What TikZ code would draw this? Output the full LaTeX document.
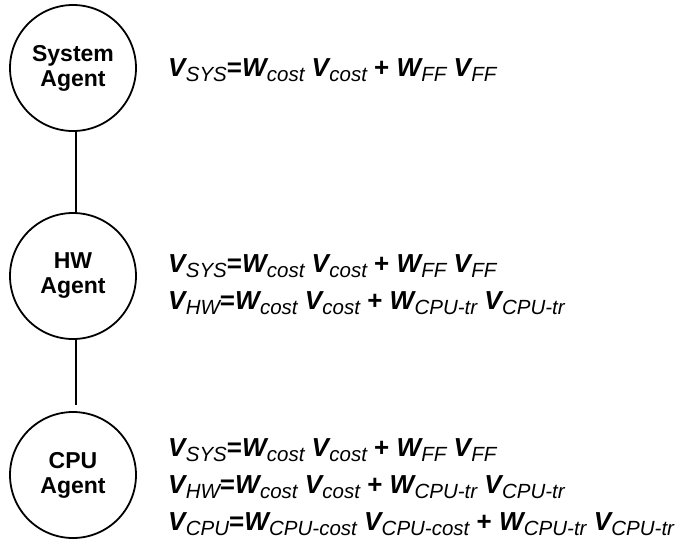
\documentclass[tikz,border=0pt]{standalone}
\usepackage{fontspec}
\setmainfont{Liberation Sans}
% bold-italic symbol with a lowered italic index
\newcommand{\vi}[2]{{\bfseries\itshape #1}\kern0.3pt\raisebox{-5pt}{\fontsize{20.5}{20.5}\selectfont\mdseries\itshape #2}}
\newcommand{\eqs}{{\bfseries=}}
\newcommand{\pls}{\ {\bfseries+}\ }
\newcommand{\eqsys}{\vi{V}{SYS}\eqs\vi{W}{cost} \vi{V}{cost}\pls\vi{W}{FF} \vi{V}{FF}}
\newcommand{\eqhw}{\vi{V}{HW}\eqs\vi{W}{cost} \vi{V}{cost}\pls\vi{W}{CPU-tr} \vi{V}{CPU-tr}}
\newcommand{\eqcpu}{\vi{V}{CPU}\eqs\vi{W}{CPU-cost} \vi{V}{CPU-cost}\pls\vi{W}{CPU-tr} \vi{V}{CPU-tr}}
\begin{document}
\begin{tikzpicture}[x=1pt,y=-1pt,
  agent/.style={circle,draw,line width=1.8pt,minimum size=126pt,inner sep=0pt,
    align=center,font=\fontsize{23}{25}\selectfont\bfseries},
  eqn/.style={anchor=base west,inner sep=0pt,font=\fontsize{26}{26}\selectfont},
  link/.style={line width=1.8pt}]
\useasboundingbox (0,0) rectangle (676,539);
\node[agent] (sys) at (73,68) {System\\Agent};
\node[agent] (hw)  at (73,276) {HW\\Agent};
\node[agent] (cpu) at (73,475) {CPU\\Agent};
\draw[link] (sys.south) ++(3,0) coordinate (s1) -- (s1 |- hw.north);
\draw[link] (hw.south) ++(3,0) coordinate (h1) -- ([yshift=6pt]h1 |- cpu.north);

\node[eqn] (e1) at (168,76) {\eqsys};
\node[eqn] (e2) at (168,272) {\eqsys};
\node[eqn] (e3) at (168,309) {\eqhw};
\node[eqn] (e4) at (168,456) {\eqsys};
\node[eqn] (e5) at (168,493) {\eqhw};
\node[eqn] (e6) at (168,530) {\eqcpu};
\end{tikzpicture}
\end{document}
